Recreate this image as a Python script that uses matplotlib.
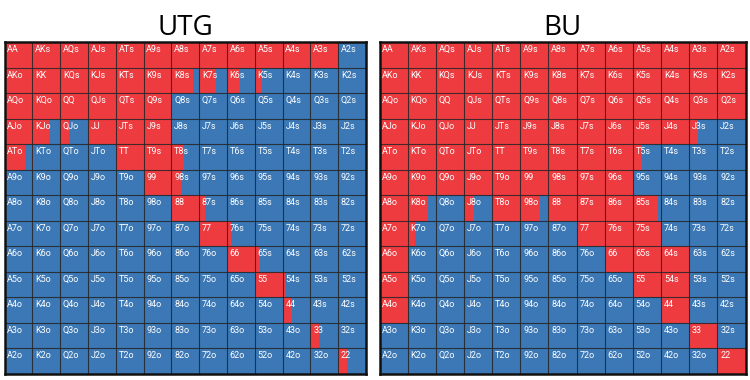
import matplotlib.pyplot as plt
from matplotlib.patches import Rectangle

ranks = ['A', 'K', 'Q', 'J', 'T', '9', '8', '7', '6', '5', '4', '3', '2']
titles = ['UTG', 'BU']

# share of each hand that is raised (red), rest is fold (blue)
utg_raise = [
    [1, 1, 1, 1, 1, 1, 1, 1, 1, 1, 1, 1, 0],
    [1, 1, 1, 1, 1, 1, 0.78, 0.6, 0.48, 0.25, 0, 0, 0],
    [1, 1, 1, 1, 1, 1, 0, 0, 0, 0, 0, 0, 0],
    [1, 0.6, 0.32, 1, 1, 1, 0, 0, 0, 0, 0, 0, 0],
    [0.72, 0.05, 0, 0, 1, 1, 0.45, 0, 0, 0, 0, 0, 0],
    [0, 0, 0, 0, 0, 1, 0.33, 0, 0, 0, 0, 0, 0],
    [0, 0, 0, 0, 0, 0, 1, 0.2, 0, 0, 0, 0, 0],
    [0, 0, 0, 0, 0, 0, 0, 1, 0.15, 0, 0, 0, 0],
    [0, 0, 0, 0, 0, 0, 0, 0, 1, 0.2, 0, 0, 0],
    [0, 0, 0, 0, 0, 0, 0, 0, 0, 1, 0.1, 0, 0],
    [0, 0, 0, 0, 0, 0, 0, 0, 0, 0, 0.35, 0, 0],
    [0, 0, 0, 0, 0, 0, 0, 0, 0, 0, 0, 0.3, 0],
    [0, 0, 0, 0, 0, 0, 0, 0, 0, 0, 0, 0, 0.33],
]

bu_raise = [
    [1, 1, 1, 1, 1, 1, 1, 1, 1, 1, 1, 1, 1],
    [1, 1, 1, 1, 1, 1, 1, 1, 1, 1, 1, 1, 1],
    [1, 1, 1, 1, 1, 1, 1, 1, 1, 1, 1, 1, 1],
    [1, 1, 1, 1, 1, 1, 1, 1, 1, 1, 1, 0.32, 0],
    [1, 1, 1, 1, 1, 1, 1, 1, 1, 0.32, 0, 0, 0],
    [1, 1, 1, 1, 1, 1, 1, 1, 1, 0, 0, 0, 0],
    [1, 0.72, 0, 0.35, 1, 0.7, 1, 1, 1, 0.9, 0, 0, 0],
    [1, 0.25, 0, 0, 0, 0, 0, 1, 1, 1, 0, 0, 0],
    [1, 0, 0, 0, 0, 0, 0, 0, 1, 1, 1, 0, 0],
    [1, 0, 0, 0, 0, 0, 0, 0, 0, 1, 1, 0, 0],
    [1, 0, 0, 0, 0, 0, 0, 0, 0, 0, 1, 0, 0],
    [0.1, 0, 0, 0, 0, 0, 0, 0, 0, 0, 0, 1, 0],
    [0, 0, 0, 0, 0, 0, 0, 0, 0, 0, 0, 0, 1],
]

RED = '#ee3b40'
BLUE = '#3b78b5'


def hand_name(i, j):
    if i == j:
        return ranks[i] + ranks[j]
    if i < j:
        return ranks[i] + ranks[j] + 's'
    return ranks[j] + ranks[i] + 'o'


def draw_grid(ax, grid, title):
    n = len(ranks)
    for i in range(n):
        for j in range(n):
            f = grid[i][j]
            ax.add_patch(Rectangle((j, i), f, 1, facecolor=RED, edgecolor='none'))
            ax.add_patch(Rectangle((j + f, i), 1 - f, 1, facecolor=BLUE, edgecolor='none'))
            ax.text(j + 0.1, i + 0.12, hand_name(i, j), color='white', fontsize=6.5,
                    ha='left', va='top', family='Roboto')
    # cell borders
    for k in range(1, n):
        ax.axhline(k, color='#252525', lw=0.8, alpha=0.85)
        ax.axvline(k, color='#252525', lw=0.8, alpha=0.85)
    ax.set_xlim(0, n)
    ax.set_ylim(n, 0)
    ax.set_xticks([])
    ax.set_yticks([])
    for s in ax.spines.values():
        s.set_linewidth(1.8)
        s.set_color('#111111')
    ax.set_title(title, fontsize=20, family='Open Sans', pad=5)


fig = plt.figure(figsize=(7.5, 3.8), dpi=100)
ax1 = fig.add_axes([0.006, 0.016, 0.482, 0.873])
ax2 = fig.add_axes([0.506, 0.016, 0.488, 0.873])
draw_grid(ax1, utg_raise, titles[0])
draw_grid(ax2, bu_raise, titles[1])

fig.savefig('out.png', dpi=100)
